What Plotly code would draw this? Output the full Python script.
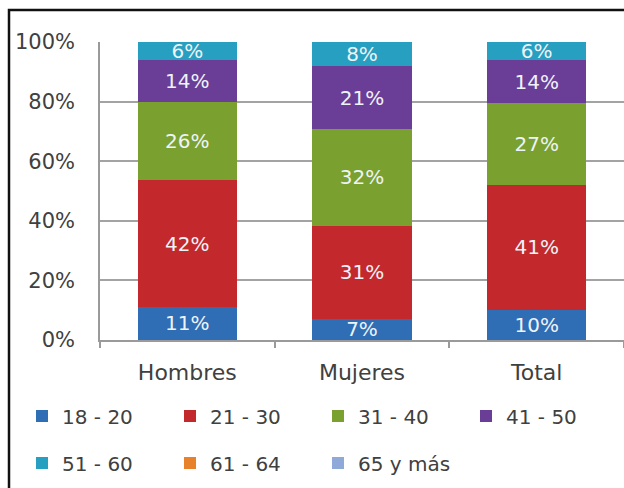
import plotly.graph_objects as go

categories = ["Hombres", "Mujeres", "Total"]
series_names = ["18 - 20", "21 - 30", "31 - 40", "41 - 50", "51 - 60", "61 - 64", "65 y más"]
v_18_20 = [11, 7, 10]
v_21_30 = [42, 31, 41]
v_31_40 = [26, 32, 27]
v_41_50 = [14, 21, 14]
v_51_60 = [6, 8, 6]
v_61_64 = [0, 0, 0]
v_65_mas = [0, 0, 0]
series_values = [v_18_20, v_21_30, v_31_40, v_41_50, v_51_60, v_61_64, v_65_mas]
colors = ["#2f6db5", "#c3282d", "#7aa12f", "#6a3d97", "#269fc0", "#e8822a", "#8fa9d9"]
y_ticks = [0, 20, 40, 60, 80, 100]

FONT = "DejaVu Sans"
fig = go.Figure()
for i, (name, vals, col) in enumerate(zip(series_names, series_values, colors)):
    fig.add_trace(go.Bar(
        x=categories, y=vals, name=name,
        marker=dict(color=col, line=dict(width=0)),
        text=[f"{v}%" if v > 0 else "" for v in vals],
        textposition="inside", insidetextanchor="middle",
        textfont=dict(family=FONT, size=20, color="#eef3f9"),
        constraintext="none",
        legend="legend" if i < 4 else "legend2",
    ))

# plot area: x 100..624, y 42..340 (px)
W, H = 624, 488
L, R, T, B = 100, 0, 42, 148
pw, ph = W - L - R, H - T - B

def px_x(x):
    return (x - L) / pw

def px_y(y):
    return (H - B - y) / ph

leg_common = dict(
    orientation="h", xanchor="left", yanchor="middle",
    entrywidth=103, entrywidthmode="pixels",
    font=dict(family=FONT, size=20, color="#404040"),
    bgcolor="rgba(0,0,0,0)", traceorder="normal",
)

fig.update_layout(
    width=W, height=H,
    margin=dict(l=L, r=R, t=T, b=B, pad=0),
    paper_bgcolor="white", plot_bgcolor="white",
    barmode="stack", barnorm="percent", bargap=0.43,
    font=dict(family=FONT, color="#404040"),
    uniformtext=dict(minsize=20, mode="show"),
    xaxis=dict(
        showgrid=False, showline=True, linecolor="#9a9a9a", linewidth=1.5,
        ticks="outside", tickson="boundaries", ticklen=6, tickcolor="#9a9a9a", tickwidth=1.5,
        tickfont=dict(family=FONT, size=22, color="#404040"),
        ticklabelstandoff=12,
    ),
    yaxis=dict(
        range=[0, 100], tickvals=y_ticks, ticktext=[f"{t}%" for t in y_ticks],
        showgrid=True, gridcolor="#a3a3a3", gridwidth=1.5,
        showline=True, linecolor="#9a9a9a", linewidth=1.5,
        ticks="", tickfont=dict(family=FONT, size=21, color="#404040"),
        ticklabelstandoff=19, zeroline=False,
    ),
    legend=dict(leg_common, x=px_x(22), y=px_y(416)),
    legend2=dict(leg_common, x=px_x(22), y=px_y(463)),
    shapes=[dict(
        type="rect", xref="paper", yref="paper",
        x0=px_x(9), x1=px_x(700), y0=px_y(600), y1=px_y(10),
        line=dict(color="#111111", width=2.5), fillcolor="rgba(0,0,0,0)", layer="above",
    )],
)

fig.write_html("out.html", config={"displayModeBar": False},
               post_script="document.body.style.margin='0';")
